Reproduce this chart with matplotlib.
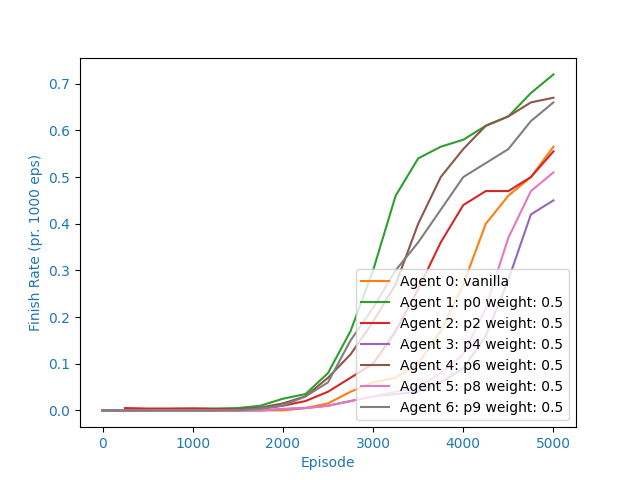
import matplotlib
matplotlib.use('Agg')
import matplotlib.pyplot as plt

episodes = list(range(0, 5001, 250))

# finish rate at every 250 episodes
vanilla = [0, 0, 0, 0, 0, 0, 0, 0, 0, 0.005, 0.015, 0.04, 0.06, 0.07, 0.10, 0.17, 0.27, 0.40, 0.46, 0.50, 0.565]
p0 = [0, 0, 0, 0.003, 0.004, 0.004, 0.005, 0.01, 0.025, 0.035, 0.08, 0.17, 0.30, 0.46, 0.54, 0.565, 0.58, 0.61, 0.63, 0.68, 0.72]
p2 = [None, 0.005, 0.004, 0.004, 0.004, 0.003, 0.003, 0.004, 0.01, 0.02, 0.04, 0.07, 0.10, 0.17, 0.26, 0.36, 0.44, 0.47, 0.47, 0.50, 0.555]
p4 = [0, 0, 0, 0, 0, 0, 0, 0, 0.003, 0.005, 0.01, 0.02, 0.03, 0.035, 0.04, 0.06, 0.09, 0.16, 0.28, 0.42, 0.45]
p6 = [0, 0, 0, 0, 0, 0, 0.003, 0.006, 0.015, 0.03, 0.07, 0.12, 0.19, 0.27, 0.40, 0.50, 0.56, 0.61, 0.63, 0.66, 0.67]
p8 = [0, 0, 0, 0, 0, 0, 0, 0, 0.003, 0.005, 0.01, 0.02, 0.03, 0.04, 0.05, 0.08, 0.12, 0.22, 0.37, 0.47, 0.51]
p9 = [0, 0, 0, 0, 0, 0, 0, 0.004, 0.01, 0.03, 0.06, 0.15, 0.22, 0.30, 0.36, 0.43, 0.50, 0.53, 0.56, 0.62, 0.66]

series = [
    ('Agent 0: vanilla', vanilla, 'tab:orange'),
    ('Agent 1: p0 weight: 0.5', p0, 'tab:green'),
    ('Agent 2: p2 weight: 0.5', p2, 'tab:red'),
    ('Agent 3: p4 weight: 0.5', p4, 'tab:purple'),
    ('Agent 4: p6 weight: 0.5', p6, 'tab:brown'),
    ('Agent 5: p8 weight: 0.5', p8, 'tab:pink'),
    ('Agent 6: p9 weight: 0.5', p9, 'tab:gray'),
]

fig, ax = plt.subplots(figsize=(6.4, 4.8), dpi=100)
for label, vals, color in series:
    xs = [e for e, v in zip(episodes, vals) if v is not None]
    ys = [v for v in vals if v is not None]
    ax.plot(xs, ys, color=color, label=label)

ax.set_xlabel('Episode', color='tab:blue')
ax.set_ylabel('Finish Rate (pr. 1000 eps)', color='tab:blue')
ax.tick_params(axis='both', labelcolor='tab:blue')
ax.legend(loc='lower right')
fig.savefig('out.png')
